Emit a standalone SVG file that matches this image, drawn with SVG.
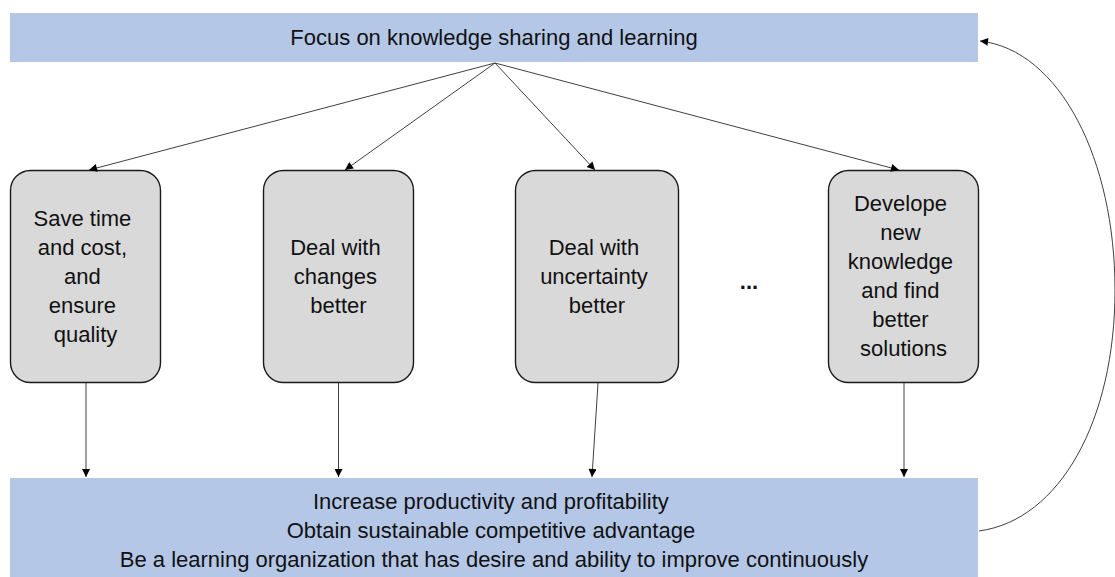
<svg xmlns="http://www.w3.org/2000/svg" width="1115" height="577" viewBox="0 0 1115 577">
  <style>
    .bar { fill: #b4c7e7; }
    .box { fill: #d9d9d9; stroke: #1a1a1a; stroke-width: 1.4; }
    .lbl { font-family: "Liberation Sans", Arial, sans-serif; font-size: 22px; fill: #111; text-anchor: middle; }
    .dots { font-weight: bold; }
    .edge { fill: none; stroke: #404040; stroke-width: 1; }
  </style>
  <defs>
    <marker id="arr" viewBox="0 0 10 10" refX="10" refY="5" markerWidth="9" markerHeight="8" markerUnits="userSpaceOnUse" orient="auto">
      <path d="M0,0 L10,5 L0,10 z" fill="#000"/>
    </marker>
  </defs>

  <rect width="1115" height="577" fill="#fff"/>

  <g id="focus">
    <rect class="bar" x="10" y="13" width="968" height="49"/>
    <text class="lbl" x="494" y="45">Focus on knowledge sharing and learning</text>
  </g>

  <g id="save-time">
    <rect class="box" x="10.5" y="170.5" width="150" height="212" rx="20"/>
    <text class="lbl" x="85.5" y="226">
      <tspan x="85.5">Save time</tspan>
      <tspan x="85.5" dy="29">and cost,</tspan>
      <tspan x="85.5" dy="29">and</tspan>
      <tspan x="85.5" dy="29">ensure</tspan>
      <tspan x="85.5" dy="29">quality</tspan>
    </text>
  </g>

  <g id="changes">
    <rect class="box" x="263.5" y="170.5" width="150" height="212" rx="20"/>
    <text class="lbl" x="338.5" y="255">
      <tspan x="338.5">Deal with</tspan>
      <tspan x="338.5" dy="29">changes</tspan>
      <tspan x="338.5" dy="29">better</tspan>
    </text>
  </g>

  <g id="uncertainty">
    <rect class="box" x="515.5" y="170.5" width="163" height="212" rx="20"/>
    <text class="lbl" x="597" y="255">
      <tspan x="597">Deal with</tspan>
      <tspan x="597" dy="29">uncertainty</tspan>
      <tspan x="597" dy="29">better</tspan>
    </text>
  </g>

  <g id="more">
    <text class="lbl dots" x="749" y="289">...</text>
  </g>

  <g id="new-knowledge">
    <rect class="box" x="828.5" y="170.5" width="150" height="212" rx="20"/>
    <text class="lbl" x="903.5" y="211">
      <tspan x="903.5">Develope</tspan>
      <tspan x="903.5" dy="29">new</tspan>
      <tspan x="903.5" dy="29">knowledge</tspan>
      <tspan x="903.5" dy="29">and find</tspan>
      <tspan x="903.5" dy="29">better</tspan>
      <tspan x="903.5" dy="29">solutions</tspan>
    </text>
  </g>

  <g id="outcomes">
    <rect class="bar" x="10" y="478" width="968" height="100"/>
    <text class="lbl" x="494" y="509">
      <tspan x="494">Increase productivity and profitability</tspan>
      <tspan x="494" dy="29">Obtain sustainable competitive advantage</tspan>
      <tspan x="494" dy="29">Be a learning organization that has desire and ability to improve continuously</tspan>
    </text>
  </g>

  <g id="connectors">
    <line class="edge" x1="495" y1="63" x2="89" y2="170" marker-end="url(#arr)"/>
    <line class="edge" x1="495" y1="63" x2="345" y2="170" marker-end="url(#arr)"/>
    <line class="edge" x1="495" y1="63" x2="595" y2="170" marker-end="url(#arr)"/>
    <line class="edge" x1="495" y1="63" x2="899" y2="170" marker-end="url(#arr)"/>
    <line class="edge" x1="86" y1="383" x2="86" y2="477" marker-end="url(#arr)"/>
    <line class="edge" x1="338.5" y1="383" x2="338.5" y2="477" marker-end="url(#arr)"/>
    <line class="edge" x1="598" y1="383" x2="592" y2="477" marker-end="url(#arr)"/>
    <line class="edge" x1="904" y1="383" x2="904" y2="477" marker-end="url(#arr)"/>
    <path class="edge" d="M 979 531 C 1060 520 1115 420 1115 290 C 1115 160 1060 50 980 41" marker-end="url(#arr)"/>
  </g>
</svg>
